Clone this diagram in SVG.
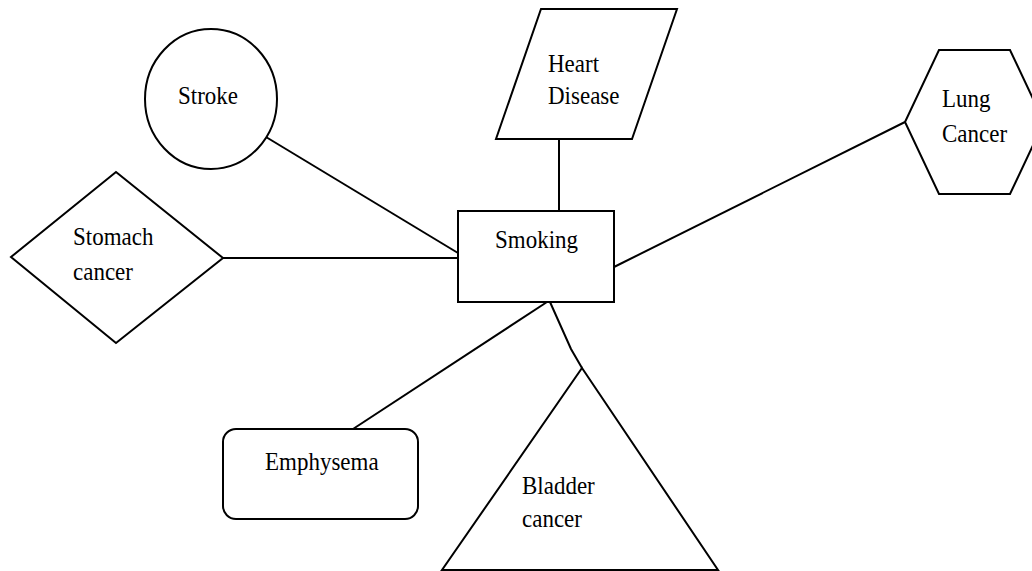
<svg xmlns="http://www.w3.org/2000/svg" width="1032" height="571" viewBox="0 0 1032 571">
<style>
.s{fill:#fff;stroke:#000;stroke-width:2;stroke-linejoin:miter}
.c{fill:none;stroke:#000;stroke-width:2}
text{font-family:"Liberation Serif","Times New Roman",serif;font-size:23px;fill:#000}
</style>
<rect width="1032" height="571" fill="#fff"/>
<g id="connectors">
<line class="c" x1="266" y1="137" x2="458" y2="253"/>
<line class="c" x1="559" y1="139" x2="559" y2="211"/>
<line class="c" x1="614" y1="267" x2="905" y2="122"/>
<line class="c" x1="223" y1="258" x2="458" y2="258"/>
<line class="c" x1="353" y1="429" x2="547" y2="302"/>
<polyline class="c" points="550,302 571,349 582,368"/>
</g>
<g id="stroke">
<ellipse class="s" cx="211" cy="99" rx="66" ry="70"/>
<text transform="translate(178 104) scale(1 1.12)">Stroke</text>
</g>
<g id="heart-disease">
<polygon class="s" points="541,9 677,9 632,139 496,139"/>
<text transform="translate(548 72) scale(1 1.12)">Heart</text>
<text transform="translate(548 104) scale(1 1.12)">Disease</text>
</g>
<g id="lung-cancer">
<polygon class="s" points="939,50 1010,50 1044,122 1010,194 939,194 905,122"/>
<text transform="translate(942 107) scale(1 1.12)">Lung</text>
<text transform="translate(942 142) scale(1 1.12)">Cancer</text>
</g>
<g id="stomach-cancer">
<polygon class="s" points="116,172 223,258 116,343 11,257"/>
<text transform="translate(73 245) scale(1 1.12)">Stomach</text>
<text transform="translate(73 280) scale(1 1.12)">cancer</text>
</g>
<g id="smoking">
<rect class="s" x="458" y="211" width="156" height="91"/>
<text transform="translate(495 248) scale(1 1.12)">Smoking</text>
</g>
<g id="emphysema">
<rect class="s" x="223" y="429" width="195" height="90" rx="13" ry="13"/>
<text transform="translate(265 470) scale(1 1.12)">Emphysema</text>
</g>
<g id="bladder-cancer">
<polygon class="s" points="582,368 718,570 442,570"/>
<text transform="translate(522 494) scale(1 1.12)">Bladder</text>
<text transform="translate(522 527) scale(1 1.12)">cancer</text>
</g>
</svg>
